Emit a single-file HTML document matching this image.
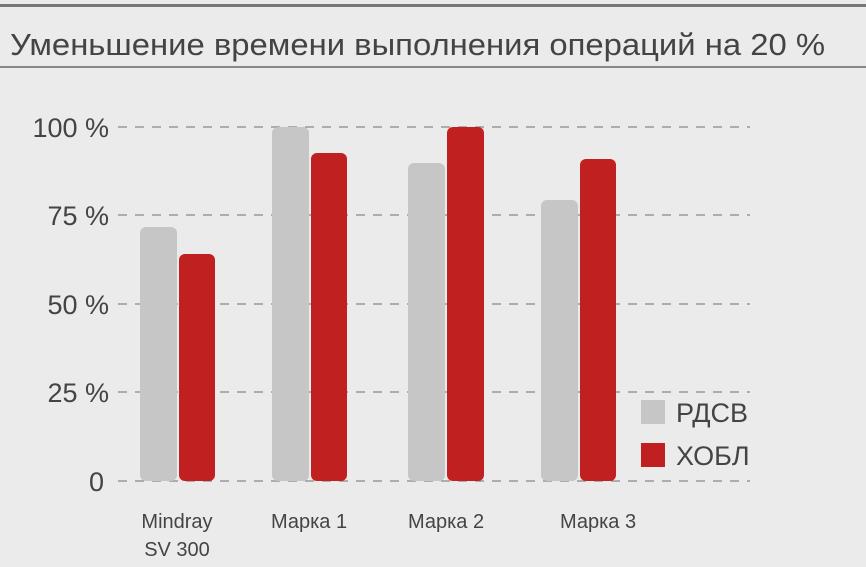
<!DOCTYPE html>
<html><head><meta charset="utf-8"><style>
body{margin:0;background:#ebebeb;}
svg{display:block;font-family:"Liberation Sans",sans-serif;}
</style></head><body>
<svg width="866" height="567" viewBox="0 0 866 567">
<rect width="866" height="567" fill="#ebebeb"/>
<rect x="0" y="4" width="866" height="3" fill="#777"/>
<rect x="0" y="66" width="866" height="2" fill="#888"/>
<text x="10" y="55" font-size="31" fill="#444" textLength="815" lengthAdjust="spacingAndGlyphs">Уменьшение времени выполнения операций на 20 %</text>
<g stroke="#888" stroke-width="1.2" stroke-dasharray="9,8">
<line x1="118" y1="127" x2="750" y2="127"/>
<line x1="118" y1="215" x2="750" y2="215"/>
<line x1="118" y1="304" x2="750" y2="304"/>
<line x1="118" y1="392" x2="750" y2="392"/>
<line x1="118" y1="481" x2="750" y2="481"/>
</g>
<g font-size="27" fill="#444" text-anchor="end">
<text x="109" y="137">100 %</text>
<text x="109" y="225">75 %</text>
<text x="109" y="314">50 %</text>
<text x="109" y="402">25 %</text>
<text x="104" y="491">0</text>
</g>
<g fill="#c6c6c6">
<rect x="140" y="227" width="37" height="254" rx="6"/>
<rect x="272" y="127" width="37" height="354" rx="6"/>
<rect x="408" y="163" width="37" height="318" rx="6"/>
<rect x="541" y="200" width="37" height="281" rx="6"/>
</g>
<g fill="#c02020">
<rect x="179" y="254" width="36" height="227" rx="6"/>
<rect x="311" y="153" width="36" height="328" rx="6"/>
<rect x="447" y="127" width="37" height="354" rx="6"/>
<rect x="580" y="159" width="36" height="322" rx="6"/>
</g>
<g font-size="20" fill="#444" text-anchor="middle">
<text x="177" y="528">Mindray</text>
<text x="177" y="556">SV 300</text>
<text x="309" y="528">Марка 1</text>
<text x="446" y="528">Марка 2</text>
<text x="598" y="528">Марка 3</text>
</g>
<rect x="641" y="400" width="24" height="24" fill="#c6c6c6"/>
<rect x="641" y="443" width="24" height="24" fill="#c02020"/>
<g font-size="27" fill="#444">
<text x="676" y="422">РДСВ</text>
<text x="676" y="465">ХОБЛ</text>
</g>
</svg>
</body></html>
